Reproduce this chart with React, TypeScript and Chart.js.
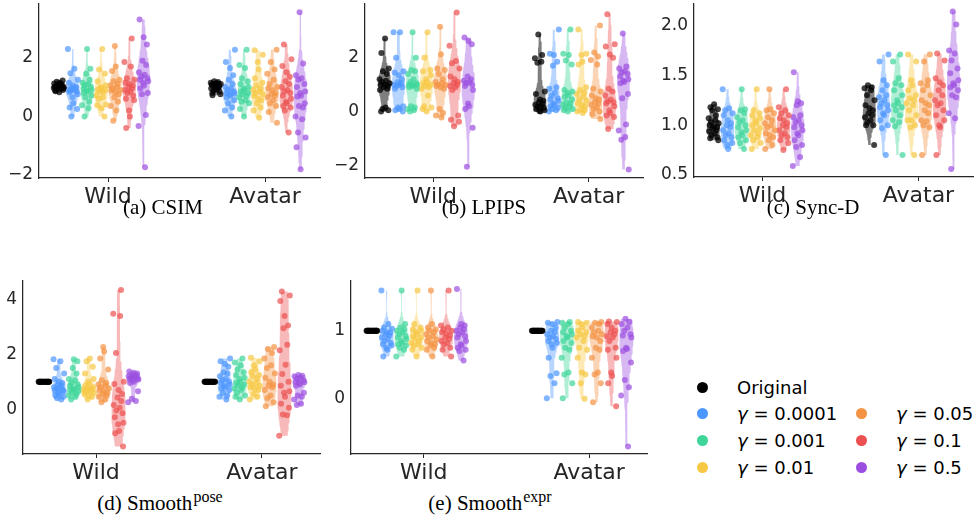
import React, { useEffect, useRef } from 'react';
import { Chart, registerables } from 'chart.js';

Chart.register(...registerables);

// ---------------- data ----------------
const CATEGORIES = ['Wild', 'Avatar'];
const SERIES = ['Original', '0.0001', '0.001', '0.01', '0.05', '0.1', '0.5'];
const COLORS = ['#000000', '#4b96ff', '#3dd598', '#f7c843', '#f39343', '#ec5050', '#9b4ee0'];
const HUE_OFFSETS = [-0.315, -0.225, -0.135, -0.045, 0.045, 0.135, 0.225];
const JITTER = [0.12, -0.58, 0.83, -0.27, 0.46, -0.91, 0.31, -0.44, 0.97, -0.72, 0.04, 0.66, -0.15, 0.52, -0.83, 0.22, -0.36, 0.75, -0.63, 0.9, -0.05];

// (a) CSIM
const CSIM_TICKS = [-2, 0, 2];
const CSIM_WILD = [
  [0.82, 0.86, 0.9, 0.93, 0.95, 0.97, 0.98, 1.0, 1.0, 1.02, 1.03, 1.05, 1.07, 1.1, 1.12, 1.15, 1.18, 1.22, 0.88, 0.96],
  [2.3, 1.62, 1.47, 1.25, 1.15, 1.05, 1.0, 0.98, 0.95, 0.92, 0.9, 0.88, 0.85, 0.82, 0.75, 0.65, 0.45, 0.3, 0.25, 0.0],
  [2.3, 1.62, 1.45, 1.25, 1.15, 1.1, 1.05, 1.0, 0.95, 0.9, 0.88, 0.85, 0.8, 0.7, 0.65, 0.5, 0.38, 0.28, 0.0],
  [2.3, 1.6, 1.45, 1.2, 1.05, 1.0, 0.95, 0.92, 0.9, 0.85, 0.82, 0.72, 0.65, 0.6, 0.4, 0.38, 0.28, 0.0],
  [2.4, 1.7, 1.55, 1.25, 1.2, 1.1, 1.05, 1.0, 0.95, 0.9, 0.88, 0.82, 0.75, 0.65, 0.5, 0.35, 0.2, -0.15],
  [2.65, 1.85, 1.7, 1.3, 1.25, 1.15, 1.1, 1.05, 1.0, 0.95, 0.9, 0.85, 0.8, 0.7, 0.6, 0.55, 0.2, 0.0, -0.4],
  [3.3, 2.7, 2.45, 1.9, 1.75, 1.5, 1.42, 1.35, 1.3, 1.25, 1.2, 1.15, 1.05, 0.95, 0.8, 0.75, 0.05, -0.33, -1.73],
];
const CSIM_AVATAR = [
  [1.2, 1.17, 1.15, 1.12, 1.1, 1.1, 1.08, 1.05, 1.02, 1.0, 0.98, 0.95, 0.92, 0.88, 0.85, 0.8, 0.75, 1.05, 1.13, 0.72],
  [2.27, 1.85, 1.65, 1.4, 1.25, 1.1, 1.0, 0.95, 0.9, 0.85, 0.8, 0.78, 0.75, 0.7, 0.65, 0.55, 0.45, 0.3, 0.2, 0.0],
  [2.27, 1.75, 1.65, 1.3, 1.2, 1.1, 1.0, 0.95, 0.9, 0.85, 0.8, 0.75, 0.7, 0.65, 0.55, 0.5, 0.45, 0.25, 0.0],
  [2.25, 2.1, 1.85, 1.6, 1.3, 1.15, 1.05, 0.95, 0.9, 0.85, 0.8, 0.75, 0.7, 0.6, 0.55, 0.45, 0.3, 0.2, -0.05],
  [2.27, 1.85, 1.6, 1.45, 1.25, 1.1, 1.0, 0.95, 0.9, 0.8, 0.75, 0.7, 0.65, 0.55, 0.45, 0.35, 0.15, -0.22],
  [2.45, 1.95, 1.72, 1.5, 1.35, 1.2, 1.1, 1.0, 0.9, 0.85, 0.8, 0.7, 0.6, 0.5, 0.45, 0.35, 0.3, 0.2, -0.55],
  [3.55, 1.8, 1.4, 1.3, 1.25, 1.1, 1.0, 0.85, 0.8, 0.7, 0.68, 0.45, 0.35, 0.3, 0.0, -0.1, -0.55, -0.72, -1.05, -1.8],
];

// (b) LPIPS
const LPIPS_TICKS = [-2, 0, 2];
const LPIPS_WILD = [
  [2.72, 2.18, 1.6, 1.5, 1.4, 1.2, 1.15, 1.1, 1.05, 1.0, 1.0, 0.95, 0.9, 0.85, 0.8, 0.15, 0.1, 0.05, 0.0],
  [2.95, 2.95, 2.0, 1.5, 1.45, 1.35, 1.2, 1.1, 1.05, 1.0, 1.0, 0.95, 0.9, 0.85, 0.2, 0.15, 0.1, 0.05, 0.0],
  [2.95, 2.0, 1.55, 1.5, 1.4, 1.2, 1.1, 1.05, 1.0, 1.0, 0.98, 0.95, 0.9, 0.85, 0.2, 0.15, 0.1, 0.05, 0.0],
  [2.95, 2.0, 1.55, 1.5, 1.35, 1.2, 1.1, 1.05, 1.0, 0.95, 0.9, 0.85, 0.6, 0.2, 0.15, 0.1, 0.0],
  [3.15, 2.12, 1.6, 1.55, 1.4, 1.2, 1.1, 1.05, 1.0, 1.0, 0.95, 0.9, 0.85, 0.1, -0.05, -0.15, -0.22],
  [3.68, 2.45, 1.88, 1.8, 1.6, 1.3, 1.2, 1.1, 1.05, 1.0, 0.95, 0.9, 0.8, -0.15, -0.3, -0.38, -0.55],
  [2.75, 2.62, 2.5, 1.3, 1.2, 1.15, 1.1, 1.05, 1.0, 0.95, 0.8, 0.3, 0.2, 0.1, -0.6, -2.05],
];
const LPIPS_AVATAR = [
  [2.87, 2.1, 1.98, 1.85, 1.82, 0.75, 0.65, 0.45, 0.4, 0.35, 0.3, 0.25, 0.2, 0.18, 0.15, 0.1, 0.05, 0.02, 0.0],
  [3.05, 2.15, 2.1, 1.85, 1.7, 0.9, 0.85, 0.7, 0.6, 0.5, 0.45, 0.4, 0.3, 0.25, 0.2, 0.15, 0.1, 0.05, 0.0],
  [3.05, 2.15, 2.1, 1.9, 1.75, 0.8, 0.75, 0.7, 0.6, 0.55, 0.45, 0.35, 0.3, 0.25, 0.2, 0.15, 0.1, 0.05, 0.0],
  [3.05, 2.15, 2.1, 1.85, 1.75, 0.9, 0.8, 0.7, 0.65, 0.55, 0.45, 0.4, 0.3, 0.25, 0.2, 0.1, 0.05, 0.0, -0.05],
  [3.2, 2.2, 2.05, 1.92, 1.75, 0.85, 0.75, 0.6, 0.5, 0.45, 0.35, 0.3, 0.25, 0.15, 0.1, 0.0, -0.1, -0.28],
  [3.62, 2.5, 2.42, 2.12, 2.0, 0.85, 0.75, 0.6, 0.45, 0.38, 0.35, 0.3, 0.2, 0.05, -0.05, -0.15, -0.2, -0.65],
  [2.9, 1.68, 1.6, 1.5, 1.45, 1.4, 1.3, 1.2, 1.15, 1.1, 1.05, 0.65, 0.5, -0.48, -0.7, -0.95, -1.05, -2.15],
];

// (c) Sync-D
const SYNC_TICKS = [0.5, 1.0, 1.5, 2.0];
const SYNC_WILD = [
  [1.21, 1.18, 1.16, 1.15, 1.1, 1.07, 1.05, 1.03, 1.02, 1.0, 0.99, 0.98, 0.97, 0.95, 0.94, 0.92, 0.9, 0.88, 0.87, 0.85],
  [1.36, 1.17, 1.15, 1.12, 1.1, 1.05, 1.02, 1.0, 0.98, 0.95, 0.92, 0.9, 0.88, 0.85, 0.82, 0.8, 0.76],
  [1.36, 1.16, 1.15, 1.12, 1.08, 1.05, 1.03, 1.0, 0.98, 0.95, 0.93, 0.9, 0.88, 0.85, 0.82, 0.76],
  [1.36, 1.15, 1.12, 1.1, 1.07, 1.05, 1.02, 1.0, 0.97, 0.95, 0.92, 0.9, 0.88, 0.85, 0.82, 0.76],
  [1.36, 1.16, 1.15, 1.12, 1.08, 1.05, 1.02, 1.0, 0.98, 0.95, 0.92, 0.9, 0.88, 0.85, 0.8, 0.76],
  [1.36, 1.18, 1.15, 1.12, 1.1, 1.07, 1.05, 1.02, 1.0, 0.98, 0.95, 0.92, 0.9, 0.88, 0.85, 0.82, 0.75],
  [1.53, 1.24, 1.22, 1.2, 1.1, 1.08, 1.05, 1.03, 1.0, 0.98, 0.95, 0.92, 0.9, 0.85, 0.8, 0.78, 0.68, 0.59],
];
const SYNC_AVATAR = [
  [1.4, 1.38, 1.37, 1.35, 1.3, 1.25, 1.2, 1.17, 1.15, 1.12, 1.1, 1.08, 1.05, 1.03, 1.0, 1.0, 0.8],
  [1.71, 1.64, 1.45, 1.4, 1.35, 1.3, 1.28, 1.25, 1.22, 1.2, 1.18, 1.15, 1.12, 1.1, 1.05, 1.0, 0.97, 0.7],
  [1.71, 1.64, 1.47, 1.42, 1.4, 1.35, 1.3, 1.25, 1.22, 1.2, 1.18, 1.15, 1.1, 1.05, 1.03, 0.99, 0.7],
  [1.71, 1.64, 1.45, 1.4, 1.35, 1.3, 1.27, 1.25, 1.22, 1.2, 1.15, 1.1, 1.05, 1.05, 1.0, 0.98, 0.7],
  [1.71, 1.64, 1.45, 1.42, 1.4, 1.35, 1.3, 1.25, 1.22, 1.2, 1.15, 1.12, 1.05, 1.04, 1.0, 0.98, 0.7],
  [1.72, 1.65, 1.47, 1.43, 1.4, 1.35, 1.3, 1.25, 1.22, 1.2, 1.15, 1.1, 1.05, 1.0, 0.98, 0.7],
  [2.14, 2.01, 1.75, 1.72, 1.65, 1.57, 1.52, 1.45, 1.42, 1.4, 1.38, 1.35, 1.3, 1.28, 1.12, 1.07, 0.56],
];

// (d) Smooth pose
const POSE_TICKS = [0, 2, 4];
const POSE_WILD = [
  [1.0, 1.0, 1.0, 1.0, 1.0, 1.0, 1.0, 1.0, 1.0, 1.0, 1.0, 1.0, 1.0, 1.0, 1.0, 1.0, 1.0, 1.0, 1.0, 1.0],
  [1.82, 1.75, 1.5, 1.3, 1.1, 1.0, 0.95, 0.9, 0.85, 0.8, 0.78, 0.75, 0.7, 0.68, 0.65, 0.6, 0.55, 0.5, 0.45, 0.4, 0.35],
  [1.82, 1.75, 1.5, 1.3, 1.1, 1.05, 0.95, 0.9, 0.85, 0.8, 0.75, 0.72, 0.7, 0.65, 0.6, 0.55, 0.5, 0.45, 0.35],
  [1.85, 1.75, 1.55, 1.3, 1.1, 1.0, 0.9, 0.85, 0.8, 0.75, 0.72, 0.7, 0.68, 0.65, 0.6, 0.55, 0.5, 0.45, 0.35],
  [2.27, 2.1, 1.85, 1.45, 1.05, 0.95, 0.9, 0.85, 0.8, 0.75, 0.7, 0.65, 0.6, 0.55, 0.5, 0.45, 0.35, 0.25],
  [4.35, 3.48, 3.4, 2.05, 1.0, 0.92, 0.7, 0.55, 0.42, 0.3, 0.15, 0.05, -0.05, -0.15, -0.3, -0.5, -0.55, -0.8, -0.88, -1.37],
  [1.37, 1.33, 1.3, 1.25, 1.22, 1.2, 1.18, 1.15, 1.12, 1.1, 1.08, 1.05, 1.0, 0.95, 0.65, 0.38, 0.3, 0.25],
];
const POSE_AVATAR = [
  [1.0, 1.0, 1.0, 1.0, 1.0, 1.0, 1.0, 1.0, 1.0, 1.0, 1.0, 1.0, 1.0, 1.0, 1.0, 1.0, 1.0, 1.0, 1.0, 1.0],
  [1.85, 1.75, 1.65, 1.55, 1.35, 1.3, 1.2, 1.1, 1.05, 1.0, 0.95, 0.9, 0.85, 0.8, 0.75, 0.7, 0.6, 0.5, 0.45, 0.35],
  [1.85, 1.7, 1.6, 1.45, 1.35, 1.25, 1.15, 1.1, 1.0, 0.95, 0.9, 0.85, 0.8, 0.75, 0.7, 0.6, 0.5, 0.45, 0.35],
  [1.88, 1.75, 1.6, 1.45, 1.35, 1.25, 1.2, 1.1, 1.0, 0.95, 0.9, 0.85, 0.8, 0.75, 0.7, 0.55, 0.45, 0.35],
  [2.27, 2.2, 2.05, 1.85, 1.6, 1.5, 1.3, 1.15, 1.0, 0.9, 0.85, 0.8, 0.7, 0.5, 0.4, 0.25, 0.1],
  [4.3, 4.15, 3.95, 3.4, 3.05, 2.95, 2.35, 2.15, 1.62, 1.28, 1.0, 0.85, 0.65, 0.6, 0.45, 0.2, 0.05, -0.2, -0.22, -0.97],
  [1.25, 1.22, 1.2, 1.15, 1.1, 1.05, 1.0, 0.98, 0.95, 0.9, 0.85, 0.6, 0.5, 0.45, 0.35, 0.2, 0.15],
];

// (e) Smooth expr
const EXPR_TICKS = [0, 1];
const EXPR_WILD = [
  [1.0, 1.0, 1.0, 1.0, 1.0, 1.0, 1.0, 1.0, 1.0, 1.0, 1.0, 1.0, 1.0, 1.0, 1.0, 1.0, 1.0, 1.0, 1.0, 1.0],
  [1.6, 1.1, 1.05, 1.03, 1.0, 0.98, 0.97, 0.95, 0.93, 0.9, 0.88, 0.85, 0.82, 0.8, 0.78, 0.75, 0.72, 0.62],
  [1.6, 1.1, 1.05, 1.02, 1.0, 0.98, 0.95, 0.92, 0.9, 0.88, 0.85, 0.82, 0.8, 0.78, 0.75, 0.72, 0.62],
  [1.6, 1.1, 1.05, 1.02, 1.0, 0.98, 0.95, 0.92, 0.9, 0.88, 0.85, 0.82, 0.8, 0.78, 0.75, 0.72, 0.62],
  [1.6, 1.1, 1.05, 1.02, 1.0, 0.98, 0.95, 0.92, 0.9, 0.87, 0.85, 0.82, 0.8, 0.78, 0.75, 0.72, 0.62],
  [1.6, 1.08, 1.05, 1.02, 1.0, 0.98, 0.96, 0.93, 0.9, 0.88, 0.85, 0.82, 0.8, 0.75, 0.72, 0.62],
  [1.62, 1.1, 1.08, 1.05, 1.02, 1.0, 0.98, 0.95, 0.92, 0.9, 0.85, 0.8, 0.78, 0.75, 0.72, 0.7, 0.56],
];
const EXPR_AVATAR = [
  [1.0, 1.0, 1.0, 1.0, 1.0, 1.0, 1.0, 1.0, 1.0, 1.0, 1.0, 1.0, 1.0, 1.0, 1.0, 1.0, 1.0, 1.0, 1.0, 1.0],
  [1.13, 1.12, 1.1, 1.05, 1.0, 0.98, 0.95, 0.92, 0.9, 0.88, 0.85, 0.82, 0.8, 0.75, 0.6, 0.37, 0.33, 0.22, 0.0],
  [1.13, 1.12, 1.1, 1.05, 1.0, 0.98, 0.95, 0.92, 0.9, 0.85, 0.82, 0.75, 0.72, 0.6, 0.38, 0.35, 0.22, 0.0],
  [1.13, 1.12, 1.1, 1.05, 1.0, 0.98, 0.95, 0.92, 0.9, 0.85, 0.75, 0.72, 0.6, 0.38, 0.35, 0.22, -0.01],
  [1.13, 1.12, 1.1, 1.05, 1.0, 0.98, 0.95, 0.92, 0.9, 0.85, 0.75, 0.72, 0.6, 0.38, 0.35, 0.22, -0.06],
  [1.14, 1.13, 1.1, 1.05, 1.0, 0.98, 0.95, 0.92, 0.9, 0.85, 0.75, 0.72, 0.6, 0.38, 0.33, 0.22, -0.12],
  [1.18, 1.13, 1.1, 1.05, 1.0, 0.95, 0.93, 0.9, 0.75, 0.73, 0.7, 0.53, 0.27, 0.16, 0.04, -0.72],
];

// ---------------- layout / style ----------------
const TICK_COLOR = '#262626';
const X_MIN = -0.44;
const X_MAX = 1.35;
const X_LABEL_H = 34;
const VIOLIN_HALF_W = 0.043;
const JITTER_W = 0.034;

type PanelCfg = {
  groups: number[][][];
  ticks: number[];
  decimals: number;
  yMin: number;
  yMax: number;
  L: number; T: number; R: number; B: number; yW: number;
};

const PANELS: PanelCfg[] = [
  { groups: [CSIM_WILD, CSIM_AVATAR], ticks: CSIM_TICKS, decimals: 0, yMin: -2.1, yMax: 3.83, L: 39, T: 0, R: 322, B: 178, yW: 39 },
  { groups: [LPIPS_WILD, LPIPS_AVATAR], ticks: LPIPS_TICKS, decimals: 0, yMin: -2.47, yMax: 4.0, L: 365, T: 0, R: 645, B: 178, yW: 40 },
  { groups: [SYNC_WILD, SYNC_AVATAR], ticks: SYNC_TICKS, decimals: 1, yMin: 0.48, yMax: 2.216, L: 694, T: 0, R: 975, B: 177, yW: 54 },
  { groups: [POSE_WILD, POSE_AVATAR], ticks: POSE_TICKS, decimals: 0, yMin: -1.64, yMax: 4.68, L: 23, T: 277, R: 322, B: 454, yW: 23 },
  { groups: [EXPR_WILD, EXPR_AVATAR], ticks: EXPR_TICKS, decimals: 0, yMin: -0.83, yMax: 1.74, L: 351, T: 277, R: 649, B: 454, yW: 25 },
];

function rgba(hex: string, a: number) {
  const n = parseInt(hex.slice(1), 16);
  return `rgba(${(n >> 16) & 255},${(n >> 8) & 255},${n & 255},${a})`;
}

// Gaussian KDE (Scott bandwidth), cut at data range, width-scaled
function violinPolygon(vals: number[], x0: number) {
  const n = vals.length;
  const mean = vals.reduce((s, v) => s + v, 0) / n;
  const sd = Math.sqrt(vals.reduce((s, v) => s + (v - mean) * (v - mean), 0) / (n - 1));
  if (!(sd > 1e-9)) return [];
  const bw = sd * Math.pow(n, -1 / 5);
  const lo = Math.min(...vals);
  const hi = Math.max(...vals);
  const N = 90;
  const ys: number[] = [];
  const ds: number[] = [];
  for (let i = 0; i <= N; i++) {
    const y = lo + ((hi - lo) * i) / N;
    let d = 0;
    for (const v of vals) {
      const z = (y - v) / bw;
      d += Math.exp(-0.5 * z * z);
    }
    ys.push(y);
    ds.push(d);
  }
  const m = Math.max(...ds);
  const right = ys.map((y, i) => ({ x: x0 + (VIOLIN_HALF_W * ds[i]) / m, y }));
  const left = ys.map((y, i) => ({ x: x0 - (VIOLIN_HALF_W * ds[i]) / m, y })).reverse();
  return [...right, ...left, right[0]];
}

function fmt(v: number, d: number) {
  return v.toFixed(d).replace('-', '\u2212');
}

function Panel({ cfg }: { cfg: PanelCfg }) {
  const ref = useRef<HTMLCanvasElement | null>(null);
  const width = cfg.R - cfg.L + cfg.yW + 2;
  const height = cfg.B - cfg.T + X_LABEL_H;
  useEffect(() => {
    if (!ref.current) return;
    const datasets: any[] = [];
    cfg.groups.forEach((group, ci) => {
      group.forEach((vals, h) => {
        const x0 = ci + HUE_OFFSETS[h];
        const poly = violinPolygon(vals, x0);
        if (poly.length) {
          datasets.push({
            type: 'line',
            data: poly,
            fill: 'shape',
            backgroundColor: rgba(COLORS[h], h === 0 ? 0.5 : 0.4),
            borderColor: 'rgba(0,0,0,0)',
            borderWidth: 0,
            pointRadius: 0,
            tension: 0,
            order: 2,
          });
        }
        datasets.push({
          type: 'scatter',
          data: vals.map((v, i) => ({ x: x0 + JITTER[(i + h * 5 + ci * 3) % JITTER.length] * JITTER_W, y: v })),
          backgroundColor: rgba(COLORS[h], h === 0 ? 0.75 : 0.7),
          borderWidth: 0,
          pointRadius: 3,
          clip: false,
          order: 1,
        });
      });
    });
    const chart = new Chart(ref.current, {
      type: 'scatter',
      data: { datasets },
      options: {
        responsive: false,
        animation: false,
        events: [],
        layout: { padding: { left: 0, right: 2, top: 0, bottom: 0 } },
        plugins: { legend: { display: false }, tooltip: { enabled: false } },
        scales: {
          x: {
            type: 'linear',
            min: X_MIN,
            max: X_MAX,
            afterBuildTicks: (s: any) => {
              s.ticks = CATEGORIES.map((_, i) => ({ value: i }));
            },
            afterFit: (s: any) => {
              s.height = X_LABEL_H;
              s.paddingLeft = 0;
              s.paddingRight = 0;
            },
            ticks: {
              callback: (v: any) => CATEGORIES[Math.round(Number(v))],
              font: { family: "'DejaVu Sans'", size: 22 },
              color: TICK_COLOR,
              padding: 2,
              maxRotation: 0,
              autoSkip: false,
            },
            grid: { display: true, drawOnChartArea: false, drawTicks: true, tickLength: 4, color: TICK_COLOR, lineWidth: 1 },
            border: { display: true, color: TICK_COLOR, width: 1.25 },
          },
          y: {
            type: 'linear',
            min: cfg.yMin,
            max: cfg.yMax,
            afterBuildTicks: (s: any) => {
              s.ticks = cfg.ticks.map((v) => ({ value: v }));
            },
            afterFit: (s: any) => {
              s.width = cfg.yW;
              s.paddingTop = 0;
              s.paddingBottom = 0;
            },
            ticks: {
              callback: (v: any) => fmt(Number(v), cfg.decimals),
              font: { family: "'DejaVu Sans'", size: 17 },
              color: TICK_COLOR,
              padding: 6,
            },
            grid: { display: false, drawTicks: false, tickLength: 0 },
            border: { display: true, color: TICK_COLOR, width: 1.25 },
          },
        },
      },
    } as any);
    return () => chart.destroy();
  }, []);
  return (
    <canvas
      ref={ref}
      width={width}
      height={height}
      style={{ position: 'absolute', left: cfg.L - cfg.yW, top: cfg.T, width, height }}
    />
  );
}

const CAPTIONS = [
  { main: '(a) CSIM', sup: '', x: 163, y: 195 },
  { main: '(b) LPIPS', sup: '', x: 484, y: 195 },
  { main: '(c) Sync-D', sup: '', x: 813, y: 195 },
  { main: '(d) Smooth', sup: 'pose', x: 160, y: 491 },
  { main: '(e) Smooth', sup: 'expr', x: 490, y: 491 },
];

const LEGEND_ROWS = [387, 413, 440, 467];

function LegendItem({ idx, x, y }: { idx: number; x: number; y: number }) {
  const label = SERIES[idx];
  return (
    <div style={{ position: 'absolute', left: x - 6, top: y - 12, height: 24, display: 'flex', alignItems: 'center', whiteSpace: 'nowrap' }}>
      <span style={{ width: 11, height: 11, borderRadius: '50%', background: COLORS[idx], display: 'inline-block' }} />
      <span style={{ marginLeft: 29, fontFamily: "'DejaVu Sans'", fontSize: 18, color: '#000' }}>
        {idx === 0 ? label : (<><i>γ</i> = {label}</>)}
      </span>
    </div>
  );
}

export default function App() {
  return (
    <div style={{ position: 'absolute', left: 0, top: 0, width: 976, height: 525, background: '#fff', overflow: 'hidden' }}>
      {PANELS.map((p, i) => (
        <Panel key={i} cfg={p} />
      ))}
      {CAPTIONS.map((c, i) => (
        <div
          key={i}
          style={{
            position: 'absolute',
            left: c.x,
            top: c.y,
            transform: 'translateX(-50%)',
            whiteSpace: 'nowrap',
            fontFamily: "'Liberation Serif', serif",
            fontSize: 21,
            lineHeight: '24px',
            color: '#000',
          }}
        >
          {c.main}
          {c.sup ? <span style={{ fontSize: 16, position: 'relative', top: -8, marginLeft: 1 }}>{c.sup}</span> : null}
        </div>
      ))}
      <LegendItem idx={0} x={703} y={LEGEND_ROWS[0]} />
      <LegendItem idx={1} x={703} y={LEGEND_ROWS[1]} />
      <LegendItem idx={2} x={703} y={LEGEND_ROWS[2]} />
      <LegendItem idx={3} x={703} y={LEGEND_ROWS[3]} />
      <LegendItem idx={4} x={862} y={LEGEND_ROWS[1]} />
      <LegendItem idx={5} x={862} y={LEGEND_ROWS[2]} />
      <LegendItem idx={6} x={862} y={LEGEND_ROWS[3]} />
    </div>
  );
}
